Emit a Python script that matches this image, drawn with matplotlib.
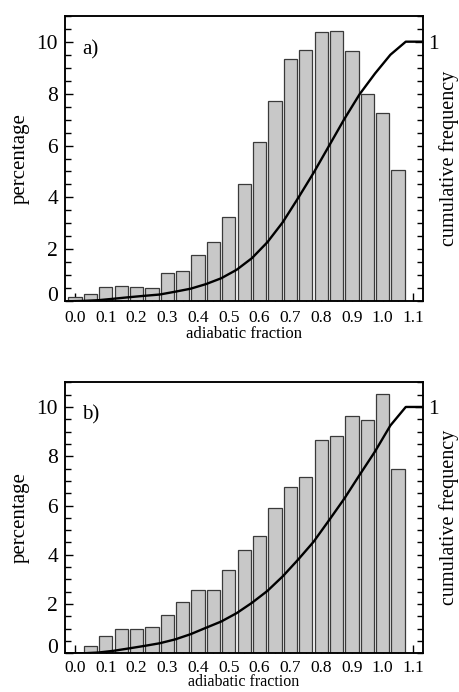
import numpy as np
import matplotlib
matplotlib.use("Agg")
import matplotlib.pyplot as plt
from matplotlib.ticker import MultipleLocator, FixedLocator

plt.rcParams['font.family'] = ['Liberation Serif', 'DejaVu Serif']

# ---- data ----
bin_centers = [0.00, 0.05, 0.10, 0.15, 0.20, 0.25, 0.30, 0.35, 0.40, 0.45, 0.50,
               0.55, 0.60, 0.65, 0.70, 0.75, 0.80, 0.85, 0.90, 0.95, 1.00, 1.05]
pct_a = [0.15, 0.27, 0.56, 0.59, 0.54, 0.50, 1.08, 1.15, 1.77, 2.27, 3.26,
         4.51, 6.12, 7.71, 9.33, 9.69, 10.37, 10.41, 9.64, 7.99, 7.24, 5.05]
pct_b = [0.00, 0.31, 0.70, 0.97, 1.00, 1.08, 1.55, 2.09, 2.59, 2.55, 3.37,
         4.20, 4.78, 5.91, 6.76, 7.17, 8.64, 8.81, 9.64, 9.46, 10.51, 7.49]
panel_labels = ['a)', 'b)']
xtick_labels = ['0.0', '0.1', '0.2', '0.3', '0.4', '0.5', '0.6', '0.7', '0.8', '0.9', '1.0', '1.1']
ytick_labels = ['0', '2', '4', '6', '8', '10']

BIN_W = 0.05
XLIM = (-0.0325, 1.13)
YLIM = (0, 11)

fig = plt.figure(figsize=(4.6, 6.92), dpi=100)
rects = [[0.1413, 0.5646, 0.7776, 0.4127],
         [0.1413, 0.0559, 0.7776, 0.3916]]
xtick_pads = [6, 4.5]
xlabel_pads = [0, -1]
xlabel_sizes = [12, 11.5]

for i, (rect, pct, lab) in enumerate(zip(rects, [pct_a, pct_b], panel_labels)):
    ax = fig.add_axes(rect)
    centers = np.array(bin_centers)
    vals = np.array(pct)
    ax.bar(centers, vals, width=BIN_W * 0.86, color='#c8c8c8',
           edgecolor='#3a3a3a', linewidth=0.9, zorder=2)

    # cumulative frequency at upper bin edges
    cum = np.cumsum(vals) / vals.sum()
    cx = np.concatenate([[XLIM[0], centers[0] - BIN_W / 2], centers + BIN_W / 2, [XLIM[1]]])
    cy = np.concatenate([[0, 0], cum, [1.0]])
    ax2 = ax.twinx()
    ax2.plot(cx, cy, color='black', lw=1.7, zorder=3, solid_joinstyle='round')
    ax2.set_ylim(0, YLIM[1] / 10)
    ax2.set_xlim(*XLIM)

    ax.set_xlim(*XLIM)
    ax.set_ylim(*YLIM)

    ax.xaxis.set_major_locator(FixedLocator(np.arange(0, 1.101, 0.1)))
    ax.set_xticklabels(xtick_labels, fontsize=12.5)
    ax.xaxis.set_minor_locator(MultipleLocator(0.05))
    ax.yaxis.set_major_locator(FixedLocator([0, 2, 4, 6, 8, 10]))
    ax.set_yticklabels(ytick_labels, fontsize=15.5)
    ax.yaxis.set_minor_locator(MultipleLocator(0.5))
    for t in ax.get_yticklabels():
        if t.get_text() == '0':
            t.set_va('baseline')

    ax.tick_params(which='both', direction='in', top=False, right=False, width=1.0)
    ax.tick_params(which='major', length=6, pad=5)
    ax.tick_params(which='minor', length=4)
    ax.tick_params(axis='x', which='major', pad=xtick_pads[i])

    ax2.yaxis.set_major_locator(FixedLocator([1.0]))
    ax2.set_yticklabels(['1'], fontsize=15.5)
    ax2.yaxis.set_minor_locator(MultipleLocator(0.05))
    ax2.tick_params(which='both', direction='in', width=1.0)
    ax2.tick_params(which='major', length=6, pad=4)
    ax2.tick_params(which='minor', length=4)

    for a in (ax, ax2):
        for s in a.spines.values():
            s.set_linewidth(1.1)
            s.set_color('black')

    ax.set_xlabel('adiabatic fraction', fontsize=xlabel_sizes[i], labelpad=xlabel_pads[i])
    ax.set_ylabel('percentage', fontsize=15, labelpad=5)
    fig.text(449 / 460, rect[1] + rect[3] / 2, 'cumulative frequency', fontsize=14.5,
             rotation=90, ha='center', va='center')

    ax.text(0.022, 9.67, lab, fontsize=15, ha='left', va='center')

fig.savefig('out.png', dpi=100)
